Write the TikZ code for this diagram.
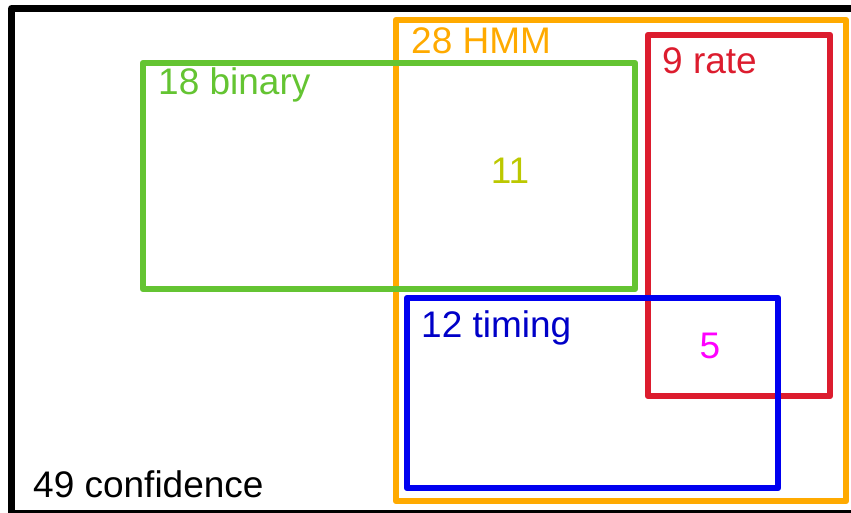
\documentclass[tikz,border=0pt]{standalone}
\usepackage{fontspec}
\setmainfont{Liberation Sans}
\definecolor{setgreen}{RGB}{100,196,50}
\definecolor{setorange}{RGB}{255,170,0}
\definecolor{setred}{RGB}{220,28,46}
\definecolor{setblue}{RGB}{0,0,240}
\definecolor{txtblue}{RGB}{0,0,200}
\definecolor{txtolive}{RGB}{188,200,0}
\definecolor{txtmag}{RGB}{255,0,255}
\tikzset{
  setbox/.style={draw=#1, line width=6.5pt, line join=round, inner sep=0pt, outer sep=0pt, anchor=north west},
  lbl/.style={text=#1, inner sep=0pt, anchor=base west, font=\fontsize{37}{44}\selectfont},
  cnt/.style={text=#1, inner sep=0pt, anchor=base, font=\fontsize{37}{44}\selectfont}
}
\begin{document}
\begin{tikzpicture}[x=1pt,y=-1pt]
\useasboundingbox (0,0) rectangle (851,512);
% outer frame: all confidence models
\node[setbox=black, line width=7pt, minimum width=860pt, minimum height=505pt] (conf) at (11.5,8.5) {};
% HMM set
\node[setbox=setorange, minimum width=450pt, minimum height=481pt] (hmm) at (396,20) {};
% binary set
\node[setbox=setgreen, minimum width=492pt, minimum height=226pt] (binary) at (143,63) {};
% rate set
\node[setbox=setred, minimum width=182pt, minimum height=361pt] (rate) at (648,35) {};
% timing set
\node[setbox=setblue, minimum width=371pt, minimum height=190pt] (timing) at (407,298) {};
% labels
\node[lbl=black] (lconf) at (33,497) {49 confidence};
\node[lbl=setorange] (lhmm) at (411,53) {28 HMM};
\node[lbl=setgreen] (lbinary) at (158,94) {18 binary};
\node[lbl=setred] (lrate) at (662,73) {9 rate};
\node[lbl=txtblue] (ltiming) at (421,337) {12 timing};
% intersection counts
\node[cnt=txtolive] (nboth) at (510,183) {11};
\node[cnt=txtmag] (nrt) at (710,358) {5};
\end{tikzpicture}
\end{document}
